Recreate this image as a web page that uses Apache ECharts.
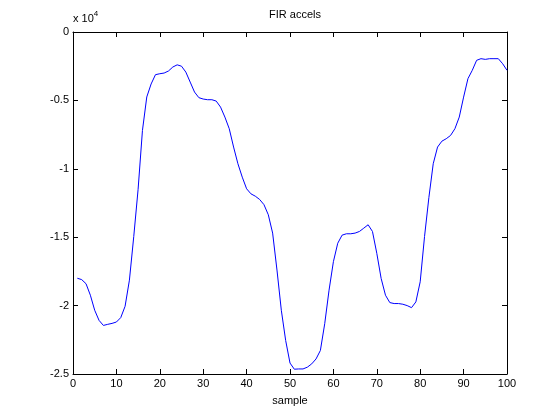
<!DOCTYPE html>
<html>
<head>
<meta charset="utf-8">
<script src="https://cdn.jsdelivr.net/npm/echarts@6/dist/echarts.min.js"></script>
<style>
html,body{margin:0;padding:0;background:#fff;}
#c{width:560px;height:420px;}
</style>
</head>
<body>
<div id="c"></div>
<script>
const samples = [];
for (let i = 1; i <= 100; i++) samples.push(i);
const accels = [
-18000,-18100,-18400,-19240,-20340,-21080,-21450,-21370,-21300,-21200,
-20880,-20050,-18140,-14950,-11500,-7200,-4750,-3800,-3120,-3050,
-3000,-2850,-2560,-2400,-2500,-2930,-3660,-4390,-4800,-4900,
-4950,-4950,-5050,-5490,-6220,-7070,-8410,-9630,-10610,-11460,
-11830,-12000,-12240,-12620,-13360,-14700,-17400,-20340,-22550,-24200,
-24650,-24630,-24630,-24500,-24260,-23900,-23280,-21320,-18870,-16790,
-15440,-14850,-14750,-14750,-14700,-14580,-14340,-14090,-14580,-16180,
-18010,-19240,-19780,-19850,-19850,-19900,-20000,-20150,-19730,-18260,
-14950,-12100,-9630,-8410,-7980,-7800,-7560,-7070,-6220,-4760,
-3410,-2800,-2070,-1950,-2000,-1950,-1950,-1950,-2320,-2800
];
const titleText = 'FIR accels';
const xLabel = 'sample';

const chart = echarts.init(document.getElementById('c'), null, {renderer: 'canvas'});
const font = 'Liberation Sans, Arial, Helvetica, sans-serif';
const tickStyle = {show: true, inside: true, length: 5, lineStyle: {color: '#000', width: 1}};
const lineStyle = {show: true, onZero: false, lineStyle: {color: '#000', width: 1}};
const data = samples.map((s, i) => [s, accels[i]]);

chart.setOption({
  animation: false,
  backgroundColor: '#fff',
  title: {
    text: titleText, left: 290, top: 4, textAlign: 'center',
    textStyle: {fontFamily: font, fontSize: 11, fontWeight: 'normal', color: '#000'}
  },
  grid: {left: 73, right: 53, top: 32, bottom: 46, show: false},
  xAxis: [{
    type: 'value', min: 0, max: 100, interval: 10, position: 'bottom',
    name: xLabel, nameLocation: 'middle', nameGap: 21,
    nameTextStyle: {fontFamily: font, fontSize: 11, color: '#000'},
    axisLine: lineStyle, axisTick: tickStyle,
    axisLabel: {fontFamily: font, fontSize: 11, color: '#000', margin: 4},
    splitLine: {show: false}
  }, {
    type: 'value', min: 0, max: 100, interval: 10, position: 'top',
    axisLine: lineStyle, axisTick: tickStyle, axisLabel: {show: false}, splitLine: {show: false}
  }],
  yAxis: [{
    type: 'value', min: -25000, max: 0, interval: 5000, position: 'left',
    axisLine: lineStyle, axisTick: tickStyle,
    axisLabel: {fontFamily: font, fontSize: 11, color: '#000', margin: 4,
      formatter: v => String(v / 10000)},
    splitLine: {show: false}
  }, {
    type: 'value', min: -25000, max: 0, interval: 5000, position: 'right',
    axisLine: lineStyle, axisTick: tickStyle, axisLabel: {show: false}, splitLine: {show: false}
  }],
  graphic: [{
    type: 'text', left: 73, top: 10,
    style: {
      text: '{a|x 10}{b|4}',
      rich: {
        a: {fontFamily: font, fontSize: 11, fill: '#000', verticalAlign: 'bottom'},
        b: {fontFamily: font, fontSize: 8, fill: '#000', verticalAlign: 'top', padding: [0, 0, 6, 0]}
      }
    }
  }],
  series: [{
    type: 'line', data: data, symbol: 'none', smooth: false,
    lineStyle: {color: '#0000ff', width: 1}, xAxisIndex: 0, yAxisIndex: 0
  }]
});
</script>
</body>
</html>
